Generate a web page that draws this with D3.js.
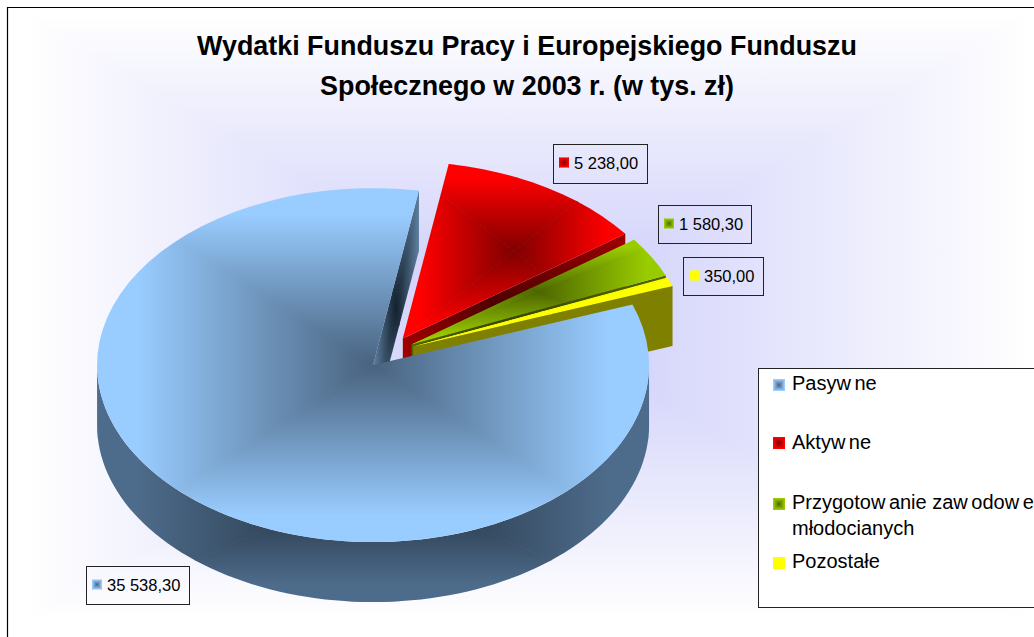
<!DOCTYPE html>
<html lang="pl">
<head>
<meta charset="utf-8">
<title>Wydatki Funduszu Pracy</title>
<script src="https://d3js.org/d3.v7.min.js"></script>
<style>
  html, body { margin: 0; padding: 0; background: #fff; overflow: hidden; }
  svg { display: block; }
  text { font-family: "Liberation Sans", Arial, sans-serif; fill: #000; }
</style>
</head>
<body>
<div id="chart"></div>
<script>
// chart data
const categories = ["Pasywne", "Aktywne", "Przygotowanie zawodowe młodocianych", "Pozostałe"];
const values = [35538.30, 5238.00, 1580.30, 350.00];
const titleLines = ["Wydatki Funduszu Pracy i Europejskiego Funduszu", "Społecznego w 2003 r. (w tys. zł)"];

// colours: [centre, edge] of each gradient
const topColors = [["#48627e", "#99ccff"], ["#800000", "#ff0000"], ["#4d6600", "#99cc00"], ["#ffff00", "#ffff00"]];
const faceColors = [["#12202c", "#5f81a1"], ["#3c0000", "#a00000"], ["#2c3a00", "#4d6600"], ["#808000", "#808000"]];
const wallColors = ["#202c3a", "#4d6b8a"];

const width = 1034, height = 637;

// pie geometry
const rx = 276, ry = 177, depth = 60, explode = 25.5;
const pieCx = 389.4, pieCy = 352.5;
const deg = Math.PI / 180;

const svg = d3.select("#chart").append("svg")
    .attr("width", width)
    .attr("height", height);
const defs = svg.append("defs");
let gradId = 0;

// rectangular "path gradient" like the office charts: four triangles clipped to the shape
function pathGradient(parent, shape, box, colors, stop) {
    const id = gradId++;
    defs.append("clipPath").attr("id", "clip" + id)
        .append("path").attr("d", shape);
    const g = parent.append("g").attr("clip-path", `url(#clip${id})`);
    const cx = box.x + box.width / 2, cy = box.y + box.height / 2;
    const hw = box.width / 2, hh = box.height / 2;
    const corners = [[-hw, -hh], [hw, -hh], [hw, hh], [-hw, hh]];
    const ends = [[0, -hh], [hw, 0], [0, hh], [-hw, 0]];
    // left and right first, top and bottom over them
    [1, 3, 0, 2].forEach(i => {
        const gid = `grad${id}_${i}`;
        const lg = defs.append("linearGradient").attr("id", gid)
            .attr("gradientUnits", "userSpaceOnUse")
            .attr("x1", cx).attr("y1", cy)
            .attr("x2", cx + ends[i][0]).attr("y2", cy + ends[i][1]);
        lg.append("stop").attr("offset", 0).attr("stop-color", colors[0]);
        lg.append("stop").attr("offset", stop).attr("stop-color", colors[1]);
        lg.append("stop").attr("offset", 1).attr("stop-color", colors[1]);
        const a = corners[i], b = corners[(i + 1) % 4];
        g.append("polygon")
            .attr("points", [[cx, cy], [cx + a[0], cy + a[1]], [cx + b[0], cy + b[1]]].join(" "))
            .attr("fill", `url(#${gid})`)
            .attr("stroke", `url(#${gid})`)
            .attr("stroke-width", 0.8);
    });
}

function boxOf(shape) {
    const p = svg.append("path").attr("d", shape);
    const b = p.node().getBBox();
    p.remove();
    return b;
}

function drawShape(parent, shape, colors, stop) {
    pathGradient(parent, shape, boxOf(shape), colors, stop);
}

const line = d3.line();
// point on the rim for a pie angle (clockwise from 12 o'clock)
const rim = (c, a, drop) => [c[0] + rx * Math.sin(a), c[1] - ry * Math.cos(a) + (drop || 0)];

// plot area background
pathGradient(svg.append("g"), `M0,0H${width}V${height}H0Z`,
    { x: 25, y: 15, width: 1005, height: 605 }, ["#cacafa", "#ffffff"], 1);

// chart frame, runs off the page at right and bottom
svg.append("path")
    .attr("d", `M7.5,${height}V7.5H${width}`)
    .attr("fill", "none")
    .attr("stroke", "#000")
    .attr("stroke-width", 1.2);

// title
svg.append("g").selectAll("text")
    .data(titleLines)
    .join("text")
    .attr("x", 527)
    .attr("y", (d, i) => 55 + i * 40)
    .attr("text-anchor", "middle")
    .attr("font-size", 26.9)
    .attr("font-weight", "bold")
    .text(d => d);

// pie slices
const slices = d3.pie().sort(null)
    .startAngle(70 * deg)
    .endAngle(430 * deg)(values);

const ellipseSteps = 90;

slices.forEach(s => {
    const mid = (s.startAngle + s.endAngle) / 2;
    s.center = [pieCx + explode * Math.sin(mid), pieCy - explode * (ry / rx) * Math.cos(mid)];
    // top of the slice
    const n = Math.max(4, Math.ceil((s.endAngle - s.startAngle) / (2 * Math.PI) * ellipseSteps));
    const pts = d3.range(n + 1).map(i => rim(s.center, s.startAngle + (s.endAngle - s.startAngle) * i / n));
    s.top = line([s.center, ...pts]) + "Z";
    // cut face at the clockwise end of the slice
    const outer = rim(s.center, s.endAngle);
    s.face = line([s.center, outer, [outer[0], outer[1] + depth], [s.center[0], s.center[1] + depth]]) + "Z";
});

const pie = svg.append("g");
const order = [0, 1, 2, 3];
order.forEach(i => {
    drawShape(pie, slices[i].face, faceColors[i], 1);
    if (i > 0) drawShape(pie, slices[i].top, topColors[i], 0.85);
});

// outer wall of the big slice, lower half of the ellipse
const c0 = slices[0].center;
const wallTop = d3.range(90, 271, 2).map(a => rim(c0, a * deg));
const wallBottom = d3.range(270, 89, -2).map(a => rim(c0, a * deg, depth));
drawShape(pie, line([...wallTop, ...wallBottom]) + "Z", wallColors, 0.85);
drawShape(pie, slices[0].top, topColors[0], 0.85);

// data labels
const fmt = d3.formatLocale({ decimal: ",", thousands: " ", grouping: [3], currency: ["", ""] }).format(",.2f");
const labelBoxes = [
    { x: 86.5, y: 566.5, w: 103, h: 38 },
    { x: 553.5, y: 144.5, w: 94, h: 39 },
    { x: 658.5, y: 205.5, w: 93, h: 38 },
    { x: 683.5, y: 257.5, w: 80, h: 38 }
];
labelBoxes.forEach((b, i) => {
    const g = svg.append("g").attr("transform", `translate(${b.x},${b.y})`);
    g.append("rect")
        .attr("width", b.w).attr("height", b.h)
        .attr("fill", "none").attr("stroke", "#222").attr("stroke-width", 1);
    const key = { x: b.x + 5.5, y: b.y + 13 };
    drawShape(svg, `M${key.x},${key.y}h10v10h-10Z`, topColors[i], 0.9);
    g.append("text")
        .attr("x", 20.5)
        .attr("y", 24.5)
        .attr("font-size", 16.5)
        .text(fmt(values[i]));
});

// legend box, cut by the page edge
svg.append("rect")
    .attr("x", 758.5).attr("y", 368.5)
    .attr("width", 300).attr("height", 239)
    .attr("fill", "#fff").attr("stroke", "#222").attr("stroke-width", 1);

const legendRows = [
    { key: 379, lines: [390] },
    { key: 437, lines: [449] },
    { key: 498, lines: [509, 535] },
    { key: 557, lines: [568] }
];
// the long category wraps on two lines
const legendLines = [[categories[0]], [categories[1]], ["Przygotowanie zawodowe", "młodocianych"], [categories[3]]];

legendRows.forEach((row, i) => {
    drawShape(svg, `M773,${row.key}h12v12h-12Z`, topColors[i], 0.9);
    legendLines[i].forEach((txt, j) => {
        const t = svg.append("text")
            .attr("x", 792)
            .attr("y", row.lines[j])
            .attr("font-size", 20);
        // the original renderer leaves a gap after each w
        txt.split(/(?<=w)/).forEach((part, k) => {
            t.append("tspan").attr("dx", k ? 3.5 : 0).text(part);
        });
    });
});
</script>
</body>
</html>
